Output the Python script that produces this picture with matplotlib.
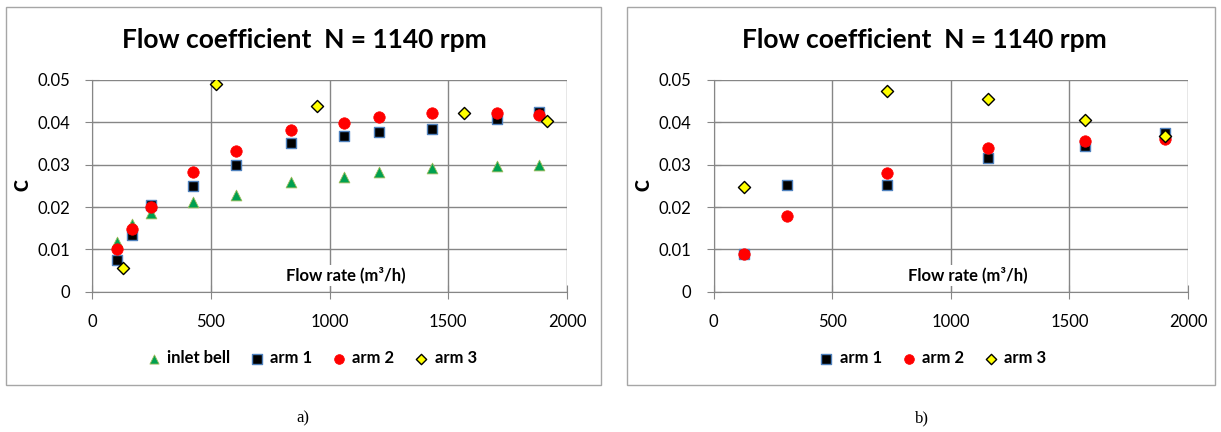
import matplotlib
matplotlib.use("Agg")
import matplotlib.pyplot as plt
from matplotlib.patches import Rectangle

plt.rcParams['font.family'] = ['Lato', 'DejaVu Sans']

# panel a) data
a_bell_x = [105, 169, 250, 425, 605, 836, 1059, 1207, 1433, 1705, 1880]
a_bell_c = [0.0117, 0.0161, 0.0187, 0.0212, 0.0228, 0.0259, 0.0270, 0.0283, 0.0291, 0.0297, 0.0299]
a_arm1_x = [105, 169, 250, 425, 605, 836, 1059, 1207, 1433, 1705, 1880]
a_arm1_c = [0.0076, 0.0134, 0.0204, 0.0249, 0.0299, 0.0352, 0.0368, 0.0377, 0.0384, 0.0407, 0.0424]
a_arm2_x = [105, 169, 250, 425, 605, 836, 1059, 1207, 1433, 1705, 1880]
a_arm2_c = [0.0100, 0.0148, 0.0199, 0.0283, 0.0332, 0.0382, 0.0398, 0.0412, 0.0421, 0.0421, 0.0417]
a_arm3_x = [131, 521, 946, 1567, 1917]
a_arm3_c = [0.0055, 0.0490, 0.0439, 0.0423, 0.0404]

# panel b) data
b_x = [129, 310, 732, 1155, 1564, 1903]
b_arm1_c = [0.0088, 0.0251, 0.0252, 0.0315, 0.0344, 0.0374]
b_arm2_c = [0.0089, 0.0178, 0.0281, 0.0339, 0.0356, 0.0361]
b_arm3_x = [129, 732, 1155, 1567, 1903]
b_arm3_c = [0.0248, 0.0475, 0.0456, 0.0406, 0.0368]

title = "Flow coefficient  N = 1140 rpm"
grid_col = "#868686"
W, H = 1221, 432

styles = {
    "inlet bell": dict(marker="^", s=60, color="#00A050", edgecolors="#9BBB59", linewidths=0.6),
    "arm 1": dict(marker="s", s=60, color="black", edgecolors="#4F81BD", linewidths=1.0),
    "arm 2": dict(marker="o", s=68, color="#FF0000", edgecolors="#FF0000", linewidths=0.5),
    "arm 3": dict(marker="D", s=38, color="#FFFF00", edgecolors="black", linewidths=1.0),
}

fig = plt.figure(figsize=(W / 100, H / 100), dpi=100)

# panel frames (left px, right px)
panels = [(6, 601), (627, 1215)]
for l, r in panels:
    fig.patches.append(Rectangle((l / W, 1 - 385 / H), (r - l) / W, 378 / H, transform=fig.transFigure,
                                 fill=False, edgecolor="#A6A6A6", linewidth=1.0))


def setup(ax, cx):
    ax.set_xlim(0, 2000)
    ax.set_ylim(0, 0.05)
    ax.set_xticks([0, 500, 1000, 1500, 2000])
    ax.set_yticks([0, 0.01, 0.02, 0.03, 0.04, 0.05])
    ax.set_yticklabels(["0", "0.01", "0.02", "0.03", "0.04", "0.05"])
    ax.grid(True, color=grid_col, linewidth=1.0)
    ax.set_axisbelow(True)
    for s in ["top", "right"]:
        ax.spines[s].set_visible(False)
    for s in ["left", "bottom"]:
        ax.spines[s].set_color(grid_col)
    ax.tick_params(direction="inout", length=10, color=grid_col, labelsize=12, pad=11)
    fig.text(cx / W, 1 - 48 / H, title, fontsize=19, fontweight="bold", ha="center", va="baseline")
    ax.text(1070, 0.0039, "Flow rate (m³/h)", fontsize=12, fontweight="bold", ha="center", va="center",
            bbox=dict(facecolor="white", edgecolor="none", pad=1.5))


ax1 = fig.add_axes([92 / W, 1 - 291.7 / H, 475 / W, 211.7 / H])
setup(ax1, 304)
ax1.scatter(a_bell_x, a_bell_c, label="inlet bell", zorder=3, **styles["inlet bell"])
ax1.scatter(a_arm1_x, a_arm1_c, label="arm 1", zorder=3, **styles["arm 1"])
ax1.scatter(a_arm2_x, a_arm2_c, label="arm 2", zorder=3, **styles["arm 2"])
ax1.scatter(a_arm3_x, a_arm3_c, label="arm 3", zorder=3, **styles["arm 3"])
fig.text(23 / W, 1 - 185 / H, "C", fontsize=13, fontweight="heavy", rotation=90, ha="center", va="center")
fig.legend(*ax1.get_legend_handles_labels(), loc="center", bbox_to_anchor=(307 / W, 1 - 358 / H), ncol=4,
           frameon=False, prop=dict(weight="bold", size=12), handletextpad=-0.2, columnspacing=0.6,
           markerscale=0.85)

ax2 = fig.add_axes([713.7 / W, 1 - 291.7 / H, 474.3 / W, 211.7 / H])
setup(ax2, 924)
ax2.scatter(b_x, b_arm1_c, label="arm 1", zorder=3, **styles["arm 1"])
ax2.scatter(b_x, b_arm2_c, label="arm 2", zorder=3, **styles["arm 2"])
ax2.scatter(b_arm3_x, b_arm3_c, label="arm 3", zorder=3, **styles["arm 3"])
fig.text(644 / W, 1 - 185 / H, "C", fontsize=13, fontweight="heavy", rotation=90, ha="center", va="center")
fig.legend(*ax2.get_legend_handles_labels(), loc="center", bbox_to_anchor=(928 / W, 1 - 358 / H), ncol=3,
           frameon=False, prop=dict(weight="bold", size=12), handletextpad=-0.2, columnspacing=0.6,
           markerscale=0.85)

fig.text(303 / W, 1 - 418 / H, "a)", fontsize=12, family="Liberation Serif", ha="center", va="center")
fig.text(922 / W, 1 - 418 / H, "b)", fontsize=12, family="Liberation Serif", ha="center", va="center")

fig.savefig("out.png", dpi=100)
